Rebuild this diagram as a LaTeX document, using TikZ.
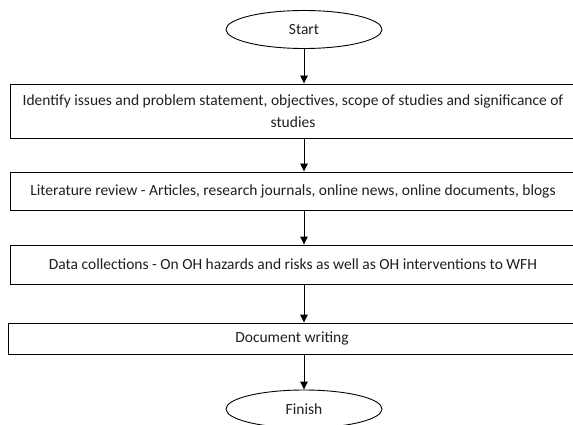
\documentclass[tikz,border=0pt]{standalone}
\usepackage{fontspec}
\setmainfont{Carlito}
\usetikzlibrary{shapes.geometric,arrows.meta}
\begin{document}
\begin{tikzpicture}[x=1pt,y=-1pt,
  every node/.style={font=\fontsize{15.5}{22}\selectfont, text=black!88},
  term/.style={draw, ellipse, line width=0.9pt, minimum width=156pt, minimum height=38pt, inner sep=0pt},
  stepbox/.style={draw, rectangle, line width=0.9pt, minimum width=566pt, align=center, inner sep=0pt},
  flow/.style={draw, line width=0.9pt, -{Triangle[width=7.5pt,length=8pt]}}
]
\useasboundingbox (0,0) rectangle (573,425);
\node[term] (start) at (304,29.5) {Start};
\node[stepbox, minimum height=54pt] (b1) at (293,111) {Identify issues and problem statement, objectives, scope of studies and significance of\\studies};
\node[stepbox, minimum height=38pt] (b2) at (293,191) {Literature review - Articles, research journals, online news, online documents, blogs};
\node[stepbox, minimum height=39pt] (b3) at (293,264.5) {Data collections - On OH hazards and risks as well as OH interventions to WFH};
\node[stepbox, minimum height=31pt, minimum width=568pt] (b4) at (292,338.5) {Document writing};
\node[term] (finish) at (304,409) {Finish};
\draw[flow] (start.south) -- (start.south |- b1.north);
\draw[flow] (start.south |- b1.south) -- (start.south |- b2.north);
\draw[flow] (start.south |- b2.south) -- (start.south |- b3.north);
\draw[flow] (start.south |- b3.south) -- (start.south |- b4.north);
\draw[flow] (start.south |- b4.south) -- (finish.north);
\end{tikzpicture}
\end{document}
